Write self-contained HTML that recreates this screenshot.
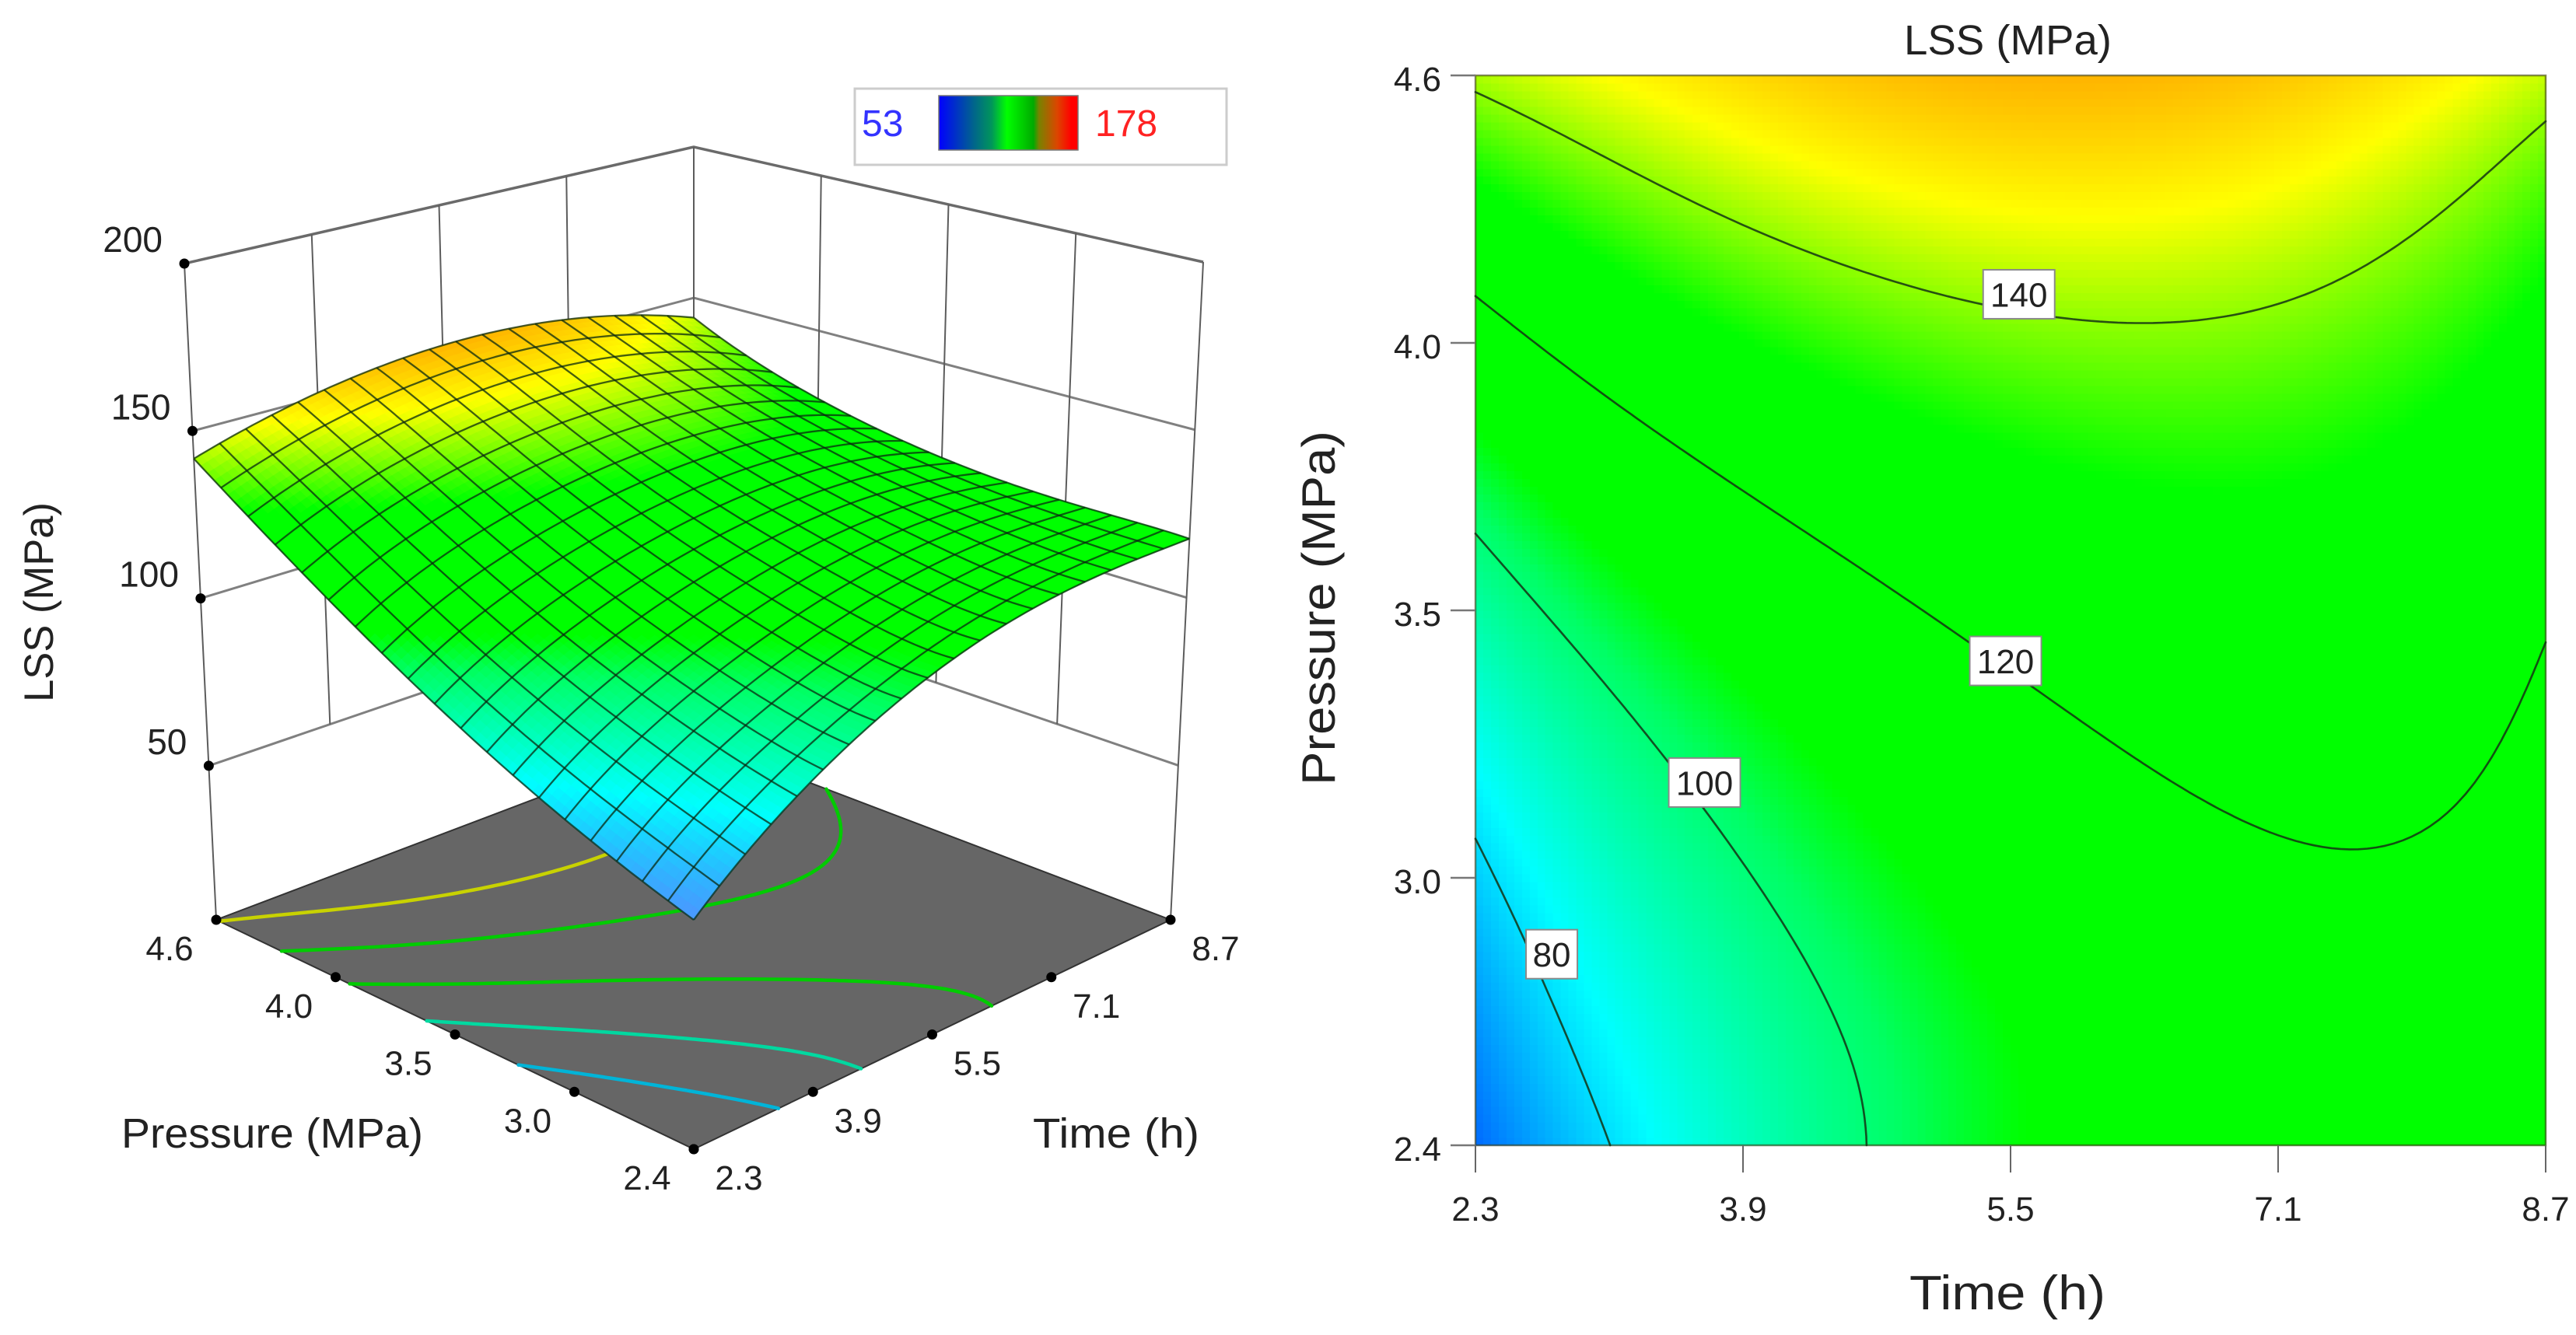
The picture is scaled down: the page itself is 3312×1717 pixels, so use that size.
<!DOCTYPE html>
<html lang="en">
<head>
<meta charset="utf-8">
<title>LSS response surface and contour</title>
<style>
html,body{margin:0;padding:0;background:#fff;}
svg{display:block;}
text{font-family:"Liberation Sans",sans-serif;fill:#222;}
</style>
</head>
<body>
<svg id="chart" xmlns="http://www.w3.org/2000/svg" width="3312" height="1717" viewBox="0 0 3312 1717">
<defs>
<linearGradient id="legendGrad" x1="0" x2="1" y1="0" y2="0">
<stop offset="0" stop-color="#0000ff"/>
<stop offset="0.25" stop-color="#00648c"/>
<stop offset="0.38" stop-color="#00965a"/>
<stop offset="0.49" stop-color="#00ff00"/>
<stop offset="0.68" stop-color="#00aa00"/>
<stop offset="0.72" stop-color="#788200"/>
<stop offset="0.85" stop-color="#dc4600"/>
<stop offset="0.95" stop-color="#ff0000"/>
<stop offset="1" stop-color="#ff0000"/>
</linearGradient>
</defs>
<rect x="0" y="0" width="3312" height="1717" fill="#ffffff"/>
<g id="panel3d"></g>
<g id="panelContour"></g>

<g>
<rect x="1099" y="114" width="478" height="98" fill="#ffffff" stroke="#cccccc" stroke-width="3"/>
<rect x="1207" y="123" width="179" height="70" fill="url(#legendGrad)" stroke="#777777" stroke-width="1.5"/>
<text id="legendMin" x="1108" y="175" font-size="48" style="fill:#3333ff"></text>
<text id="legendMax" x="1408" y="175" font-size="48" style="fill:#ff2222"></text>
</g>

<text transform="translate(68,903) rotate(-90)" font-size="53" textLength="257" lengthAdjust="spacingAndGlyphs">LSS (MPa)</text>
<text x="156" y="1476" font-size="54" textLength="388" lengthAdjust="spacingAndGlyphs">Pressure (MPa)</text>
<text x="1328" y="1476" font-size="54" textLength="214" lengthAdjust="spacingAndGlyphs">Time (h)</text>

<text x="2448" y="70" font-size="54" textLength="267" lengthAdjust="spacingAndGlyphs">LSS (MPa)</text>
<text transform="translate(1716,1010) rotate(-90)" font-size="60" textLength="456" lengthAdjust="spacingAndGlyphs">Pressure (MPa)</text>
<text x="2455" y="1684" font-size="62" textLength="252" lengthAdjust="spacingAndGlyphs">Time (h)</text>
</svg>

<script>
// ---- Data ----
const timeSamples = [2.3, 2.94, 3.58, 4.22, 4.86, 5.5, 6.14, 6.78, 7.42, 8.06, 8.7];
const pressureSamples = [2.4, 2.62, 2.84, 3.06, 3.28, 3.5, 3.72, 3.94, 4.16, 4.38, 4.6];
// one row per pressure sample (low to high), one column per time sample
const lssP240 = [66, 77, 87.4, 95.5, 102, 107.5, 112.6, 115, 116.8, 117.4, 117.6];
const lssP262 = [70.5, 81, 90.4, 97.4, 103, 108.5, 112.8, 115.4, 117, 117.6, 117.8];
const lssP284 = [75.3, 85.3, 94, 100.4, 105.8, 110.6, 114.4, 117, 118.4, 118.6, 118];
const lssP306 = [80.5, 91, 98.6, 104.8, 110, 114, 117.4, 119.9, 121, 119.8, 118.2];
const lssP328 = [87.3, 96.4, 103.6, 109.6, 114.6, 118.3, 121.4, 123, 123, 121.3, 119];
const lssP350 = [94.6, 102.6, 109.6, 115.2, 119.2, 122.7, 124.6, 125.8, 125.8, 124.2, 120.4];
const lssP372 = [102.3, 110.4, 116.6, 121, 124.6, 128, 129.4, 130.4, 130, 127.6, 123.2];
const lssP394 = [111, 118.7, 124.5, 128.8, 132, 134.8, 135.7, 135.8, 134.6, 131.2, 126];
const lssP416 = [120.5, 127.5, 133, 137, 139.6, 141.9, 142.2, 141.3, 139.2, 135.6, 130.4];
const lssP438 = [131, 136.6, 141.2, 144.8, 147.2, 149, 149.2, 148.2, 146, 142.4, 136];
const lssP460 = [141.7, 146.2, 150, 153, 155, 156, 156, 155, 152.5, 148.5, 143.5];
const lssRows = [lssP240, lssP262, lssP284, lssP306, lssP328, lssP350, lssP372, lssP394, lssP416, lssP438, lssP460];

const contourLevels = [80, 100, 120, 140];
const contourLabelTimes = [2.756, 3.67, 5.47, 5.55];
const contourLabelPressures = [2.793, 3.146, 3.396, 4.15];
const floorContourLevels = [85, 99, 113, 127, 141];
const floorContourColors = ["#00b4d8", "#00d8a0", "#00cc00", "#00cc00", "#c8d200"];

const timeTicks = [2.3, 3.9, 5.5, 7.1, 8.7];
const timeTickLabels = ["2.3", "3.9", "5.5", "7.1", "8.7"];
const pressureTicks = [2.4, 2.95, 3.5, 4.05, 4.6];
const pressureTickLabels = ["2.4", "3.0", "3.5", "4.0", "4.6"];
const lssTicks = [50, 100, 150, 200];
const lssTickLabels = ["50", "100", "150", "200"];
const legendRange = [53, 178];

const colorValues = [53, 84, 102, 108.5, 131, 147, 178];
const colorRed = [0, 0, 0, 0, 0, 255, 255];
const colorGreen = [0, 255, 255, 255, 255, 255, 0];
const colorBlue = [255, 255, 100, 0, 0, 0, 0];

// ---- Helpers ----
const SVGNS = "http://www.w3.org/2000/svg";
function mk(tag, attrs, parent) {
  const el = document.createElementNS(SVGNS, tag);
  for (const k in attrs) el.setAttribute(k, attrs[k]);
  parent.appendChild(el);
  return el;
}
function normT(t) { return (t - timeSamples[0]) / (timeSamples[timeSamples.length - 1] - timeSamples[0]); }
function normP(p) { return (p - pressureSamples[0]) / (pressureSamples[pressureSamples.length - 1] - pressureSamples[0]); }

// Polynomial response model least-squares fitted to the sampled table
function polyEval(c, x) {
  let r = 0;
  for (let i = c.length - 1; i >= 0; i--) r = r * x + c[i];
  return r;
}
function buildBasis(n, deg) {
  const xs = [];
  for (let i = 0; i < n; i++) xs.push(2 * i / (n - 1) - 1);
  const basis = [];
  for (let k = 0; k <= deg; k++) {
    const c = new Array(deg + 1).fill(0);
    c[k] = 1;
    basis.forEach(function (b) {
      let dot = 0;
      xs.forEach(function (x) { dot += polyEval(c, x) * polyEval(b, x); });
      for (let m = 0; m <= deg; m++) c[m] -= dot * b[m];
    });
    let nrm = 0;
    xs.forEach(function (x) { const y = polyEval(c, x); nrm += y * y; });
    nrm = Math.sqrt(nrm);
    for (let m = 0; m <= deg; m++) c[m] /= nrm;
    basis.push(c);
  }
  return basis;
}
const degU = 5, degV = 5;
const basisU = buildBasis(timeSamples.length, degU);
const basisV = buildBasis(pressureSamples.length, degV);
const modelCoef = basisU.map(function (bu) {
  return basisV.map(function (bv) {
    let s = 0;
    lssRows.forEach(function (row, j) {
      const py = polyEval(bv, 2 * j / (lssRows.length - 1) - 1);
      row.forEach(function (val, i) {
        s += val * polyEval(bu, 2 * i / (row.length - 1) - 1) * py;
      });
    });
    return s;
  });
});
function surface(u, v) {
  const x = 2 * u - 1, y = 2 * v - 1;
  const pv = basisV.map(function (b) { return polyEval(b, y); });
  let s = 0;
  for (let k = 0; k <= degU; k++) {
    const pu = polyEval(basisU[k], x);
    for (let l = 0; l <= degV; l++) s += modelCoef[k][l] * pu * pv[l];
  }
  return s;
}

function colorChannels(z) {
  const n = colorValues.length;
  if (z <= colorValues[0]) return [colorRed[0], colorGreen[0], colorBlue[0]];
  for (let i = 1; i < n; i++) {
    if (z <= colorValues[i]) {
      const f = (z - colorValues[i - 1]) / (colorValues[i] - colorValues[i - 1]);
      return [
        colorRed[i - 1] + f * (colorRed[i] - colorRed[i - 1]),
        colorGreen[i - 1] + f * (colorGreen[i] - colorGreen[i - 1]),
        colorBlue[i - 1] + f * (colorBlue[i] - colorBlue[i - 1])
      ];
    }
  }
  return [colorRed[n - 1], colorGreen[n - 1], colorBlue[n - 1]];
}
function colorOf(z) {
  const c = colorChannels(z);
  return "rgb(" + Math.round(c[0]) + "," + Math.round(c[1]) + "," + Math.round(c[2]) + ")";
}
// the lit 3D surface renders its low (blue) end paler than the flat map
function colorOfLit(z) {
  const c = colorChannels(z);
  const m = z < 84 ? Math.min((84 - z) / 18, 1) * 0.3 : 0;
  return "rgb(" + Math.round(c[0] + m * (255 - c[0])) + "," + Math.round(c[1] + m * (255 - c[1])) + "," + Math.round(c[2]) + ")";
}
function contourPath(level, res, toPoint) {
  const f = [];
  for (let j = 0; j <= res; j++) {
    const r = [];
    for (let i = 0; i <= res; i++) r.push(surface(i / res, j / res));
    f.push(r);
  }
  let d = "";
  function cross(u1, v1, a, u2, v2, b, out) {
    if ((a < level) !== (b < level)) {
      const s = (level - a) / (b - a);
      out.push(toPoint(u1 + s * (u2 - u1), v1 + s * (v2 - v1)));
    }
  }
  for (let j = 0; j < res; j++) {
    for (let i = 0; i < res; i++) {
      const u0 = i / res, u1 = (i + 1) / res, v0 = j / res, v1 = (j + 1) / res;
      const a = f[j][i], b = f[j][i + 1], c = f[j + 1][i + 1], e = f[j + 1][i];
      const pts = [];
      cross(u0, v0, a, u1, v0, b, pts);
      cross(u1, v0, b, u1, v1, c, pts);
      cross(u1, v1, c, u0, v1, e, pts);
      cross(u0, v1, e, u0, v0, a, pts);
      for (let k = 0; k + 1 < pts.length; k += 2) {
        d += "M" + pts[k][0].toFixed(1) + " " + pts[k][1].toFixed(1) + "L" + pts[k + 1][0].toFixed(1) + " " + pts[k + 1][1].toFixed(1);
      }
    }
  }
  return d;
}

// ---- 3D projection (corner anchored) ----
const floorFront = [892, 1478], floorRight = [1505, 1183], floorLeft = [278, 1183], floorBack = [892, 950];
const topFront = [892, 545], topRight = [1547, 337], topLeft = [237, 339], topBack = [892, 189];
const zFloor = 4, zTop = 200;
function bil(a, b, c, d, u, v, k) {
  return (1 - u) * (1 - v) * a[k] + u * (1 - v) * b[k] + (1 - u) * v * c[k] + u * v * d[k];
}
function project(u, v, z) {
  const f = (z - zFloor) / (zTop - zFloor);
  const x0 = bil(floorFront, floorRight, floorLeft, floorBack, u, v, 0);
  const y0 = bil(floorFront, floorRight, floorLeft, floorBack, u, v, 1);
  const x1 = bil(topFront, topRight, topLeft, topBack, u, v, 0);
  const y1 = bil(topFront, topRight, topLeft, topBack, u, v, 1);
  return [x0 + f * (x1 - x0), y0 + f * (y1 - y0)];
}
function ptStr(p) { return p[0].toFixed(1) + "," + p[1].toFixed(1); }

const panel3d = document.getElementById("panel3d");

// walls: z lines
const wallGroup = mk("g", {}, panel3d);


lssTicks.forEach(function (z) {
  const line = mk("polyline", {
    points: ptStr(project(0, 1, z)) + " " + ptStr(project(1, 1, z)) + " " + ptStr(project(1, 0, z)),
    fill: "none", stroke: z === 200 ? "#6a6a6a" : "#808080", "stroke-width": z === 200 ? 3.5 : 3
  }, wallGroup);
  
  
});
// walls: vertical lines; inner ones stop at the lowest z tick, outer corners reach the floor
timeTicks.forEach(function (t) {
  const u = normT(t);
  const a = project(u, 1, u === 0 ? zFloor : lssTicks[0]), b = project(u, 1, zTop);
  const line = mk("line", { x1: a[0], y1: a[1], x2: b[0], y2: b[1], stroke: "#5c5c5c", "stroke-width": 2 }, wallGroup);
  
  
});
pressureTicks.forEach(function (p) {
  const v = normP(p);
  const a = project(1, v, v === 0 ? zFloor : lssTicks[0]), b = project(1, v, zTop);
  const line = mk("line", { x1: a[0], y1: a[1], x2: b[0], y2: b[1], stroke: "#5c5c5c", "stroke-width": 2 }, wallGroup);
  
  
});

// floor
const floorPoly = mk("polygon", {
  points: [floorFront, floorRight, floorBack, floorLeft].map(ptStr).join(" "),
  fill: "#666666", stroke: "#333333", "stroke-width": 2
}, panel3d);



// floor contours
floorContourLevels.forEach(function (lv, i) {
  const path = mk("path", {
    d: contourPath(lv, 90, function (u, v) { return project(u, v, zFloor); }),
    fill: "none", stroke: floorContourColors[i], "stroke-width": 4.5, "stroke-linecap": "round"
  }, panel3d);
  
  
});

// surface fill + mesh
const meshCells = 19, meshSub = 4;
const surfGroup = mk("g", {}, panel3d);


const fineN = meshCells * meshSub;
for (let i = fineN - 1; i >= 0; i--) {
  for (let j = fineN - 1; j >= 0; j--) {
    const u0 = i / fineN, u1 = (i + 1) / fineN, v0 = j / fineN, v1 = (j + 1) / fineN;
    const c = colorOfLit(surface((u0 + u1) / 2, (v0 + v1) / 2));
    const poly = mk("polygon", {
      points: ptStr(project(u0, v0, surface(u0, v0))) + " " + ptStr(project(u1, v0, surface(u1, v0))) + " " +
        ptStr(project(u1, v1, surface(u1, v1))) + " " + ptStr(project(u0, v1, surface(u0, v1))),
      fill: c, stroke: c, "stroke-width": 0.8
    }, surfGroup);
    
    
  }
}
const meshGroup = mk("g", { fill: "none", stroke: "#0a2a10", "stroke-opacity": 0.75, "stroke-width": 2.3, "stroke-linejoin": "round" }, panel3d);


for (let i = 0; i <= meshCells; i++) {
  let a = [], b = [];
  for (let k = 0; k <= fineN; k++) {
    const s = k / fineN, q = i / meshCells;
    a.push(ptStr(project(q, s, surface(q, s))));
    b.push(ptStr(project(s, q, surface(s, q))));
  }
  const l1 = mk("polyline", { points: a.join(" ") }, meshGroup);
  
  
  const l2 = mk("polyline", { points: b.join(" ") }, meshGroup);
  
  
}

// 3D tick dots and labels
lssTicks.forEach(function (z, i) {
  const p = project(0, 1, z);
  const dot = mk("circle", { cx: p[0], cy: p[1], r: 6.5, fill: "#000" }, panel3d);
  
  
  const tx = mk("text", { x: p[0] - 28, y: p[1] - 15, "font-size": 46, "text-anchor": "end" }, panel3d);
  
  
  tx.textContent = lssTickLabels[i];
});
pressureTicks.forEach(function (pv, i) {
  const p = project(0, normP(pv), zFloor);
  const dot = mk("circle", { cx: p[0], cy: p[1], r: 6.5, fill: "#000" }, panel3d);
  
  
  const tx = mk("text", { x: p[0] - 60, y: p[1] + 52, "font-size": 44, "text-anchor": "middle" }, panel3d);
  
  
  tx.textContent = pressureTickLabels[i];
});
timeTicks.forEach(function (tv, i) {
  const p = project(normT(tv), 0, zFloor);
  const dot = mk("circle", { cx: p[0], cy: p[1], r: 6.5, fill: "#000" }, panel3d);
  
  
  const tx = mk("text", { x: p[0] + 58, y: p[1] + 52, "font-size": 44, "text-anchor": "middle" }, panel3d);
  
  
  tx.textContent = timeTickLabels[i];
});

// ---- Contour panel ----
const plotL = 1897, plotR = 3273, plotT = 97, plotB = 1473;
function xScale(t) { return plotL + normT(t) * (plotR - plotL); }
function yScale(p) { return plotB - normP(p) * (plotB - plotT); }
const panelC = document.getElementById("panelContour");
const heatGroup = mk("g", { "shape-rendering": "crispEdges" }, panelC);


const heatN = 138;
const cw = (plotR - plotL) / heatN, ch = (plotB - plotT) / heatN;
for (let j = 0; j < heatN; j++) {
  for (let i = 0; i < heatN; i++) {
    const rect = mk("rect", {
      x: (plotL + i * cw).toFixed(2), y: (plotB - (j + 1) * ch).toFixed(2),
      width: (cw + 0.6).toFixed(2), height: (ch + 0.6).toFixed(2),
      fill: colorOf(surface((i + 0.5) / heatN, (j + 0.5) / heatN))
    }, heatGroup);
    
    
  }
}
const frame = mk("rect", {
  x: plotL, y: plotT, width: plotR - plotL, height: plotB - plotT,
  fill: "none", stroke: "#3c3c14", "stroke-opacity": 0.6, "stroke-width": 2.5
}, panelC);



contourLevels.forEach(function (lv) {
  const path = mk("path", {
    d: contourPath(lv, 120, function (u, v) {
      return [plotL + u * (plotR - plotL), plotB - v * (plotB - plotT)];
    }),
    fill: "none", stroke: "#143214", "stroke-opacity": 0.85, "stroke-width": 2.6, "stroke-linecap": "round"
  }, panelC);
  
  
});
contourLevels.forEach(function (lv, i) {
  const cx = xScale(contourLabelTimes[i]), cy = yScale(contourLabelPressures[i]);
  const w = lv >= 100 ? 92 : 66, h = 63;
  const box = mk("rect", { x: cx - w / 2, y: cy - h / 2, width: w, height: h, fill: "#fff", stroke: "#8a8a8a", "stroke-width": 2 }, panelC);
  
  
  const tx = mk("text", { x: cx, y: cy + 16, "font-size": 44, "text-anchor": "middle" }, panelC);
  
  
  tx.textContent = String(lv);
});
pressureTicks.forEach(function (p, i) {
  const y = yScale(p);
  const tick = mk("line", { x1: plotL - 32, y1: y, x2: plotL, y2: y, stroke: "#777", "stroke-width": 2.5 }, panelC);
  
  
  const tx = mk("text", { x: plotL - 44, y: y + 20, "font-size": 44, "text-anchor": "end" }, panelC);
  
  
  tx.textContent = pressureTickLabels[i];
});
timeTicks.forEach(function (t, i) {
  const x = xScale(t);
  const tick = mk("line", { x1: x, y1: plotB, x2: x, y2: plotB + 35, stroke: "#666", "stroke-width": 2 }, panelC);
  
  
  const tx = mk("text", { x: x, y: plotB + 97, "font-size": 44, "text-anchor": "middle" }, panelC);
  
  
  tx.textContent = timeTickLabels[i];
});

document.getElementById("legendMin").textContent = String(legendRange[0]);
document.getElementById("legendMax").textContent = String(legendRange[1]);
</script>
</body>
</html>
